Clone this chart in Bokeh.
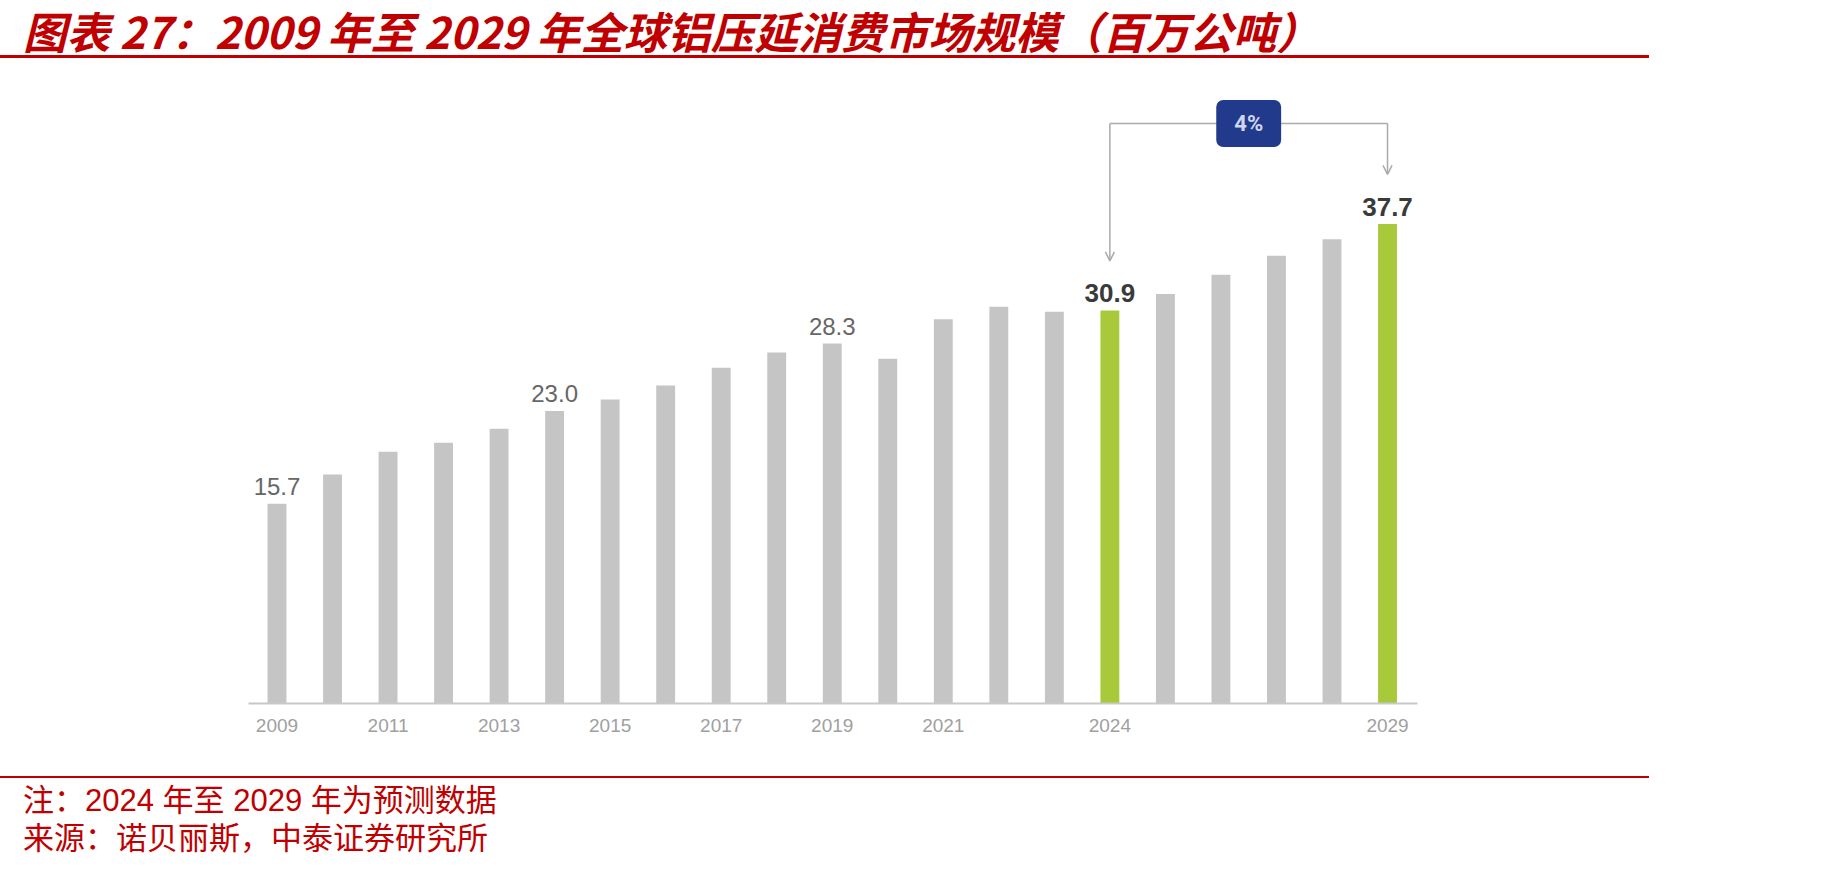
from bokeh.plotting import figure
from bokeh.layouts import column
from bokeh.models import ColumnDataSource, Label, Arrow, OpenHead, FixedTicker, Range1d, Div
from bokeh.core.properties import value
from bokeh.embed import file_html
from bokeh.resources import INLINE

# ---------------- data ----------------
years = [2009, 2010, 2011, 2012, 2013, 2014, 2015, 2016, 2017, 2018, 2019,
         2020, 2021, 2022, 2023, 2024, 2025, 2026, 2027, 2028, 2029]
values = [15.7, 18.0, 19.8, 20.5, 21.6, 23.0, 23.9, 25.0, 26.4, 27.6, 28.3,
          27.1, 30.2, 31.2, 30.8, 30.9, 32.2, 33.7, 35.2, 36.5, 37.7]
highlight_years = [2024, 2029]
label_years_plain = [2009, 2014, 2019]
label_years_bold = [2024, 2029]
tick_years = [2009, 2011, 2013, 2015, 2017, 2019, 2021, 2024, 2029]
tick_labels = ["2009", "2011", "2013", "2015", "2017", "2019", "2021", "2024", "2029"]
cagr_text = "4%"
cagr_from, cagr_to = 2024, 2029

title_text = "图表 27：2009 年至 2029 年全球铝压延消费市场规模（百万公吨）"
note_text = "注：2024 年至 2029 年为预测数据"
source_text = "来源：诺贝丽斯，中泰证券研究所"

# ---------------- styles ----------------
GRAY = "#c5c5c5"
GREEN = "#a8c93a"
RED = "#c00000"
CJK = "'Noto Sans CJK SC'"
FOOT_FONT = "'Liberation Sans', 'Noto Sans CJK SC'"

W, H = 1830, 872
TITLE_H = 90          # canvas rows 0..90
CHART_BOTTOM = 765    # chart figure spans 90..765
frame_left, frame_right = 248, 1417
frame_bottom = 703

# ---------------- title ----------------
title_html = (
    '<div style="position:relative;width:%dpx;height:%dpx;">'
    '<div style="position:absolute;left:23px;top:7px;white-space:nowrap;font-family:%s;'
    'font-size:43.5px;line-height:48px;font-weight:bold;font-style:italic;color:%s;">%s</div>'
    '<div style="position:absolute;left:0;top:55px;width:1649px;height:2.5px;background:%s;"></div>'
    '</div>' % (W, TITLE_H, CJK, RED, title_text, RED)
)
title_div = Div(text=title_html, width=W, height=TITLE_H, margin=(0, 0, 0, 0))

# ---------------- chart ----------------
colors = [GREEN if y in highlight_years else GRAY for y in years]
src = ColumnDataSource(dict(x=years, top=values, color=colors))

p = figure(width=W, height=CHART_BOTTOM - TITLE_H, output_backend="svg", toolbar_location=None,
           y_axis_location=None, x_axis_location="below", tools="",
           min_border_left=frame_left, min_border_right=W - frame_right,
           min_border_top=0, min_border_bottom=CHART_BOTTOM - frame_bottom,
           margin=(0, 0, 0, 0))
p.x_range = Range1d(2008.487, 2029.54)
p.y_range = Range1d(0, (frame_bottom - TITLE_H) / 12.72)
p.outline_line_color = None
p.grid.visible = False
p.background_fill_color = "white"
p.border_fill_color = "white"

p.vbar(x="x", top="top", width=0.34, bottom=0, color="color", source=src, line_color=None)

ax = p.xaxis[0]
ax.ticker = FixedTicker(ticks=tick_years)
ax.major_label_overrides = {t: l for t, l in zip(tick_years, tick_labels)}
ax.axis_line_color = "#c8c8c8"
ax.axis_line_width = 2
ax.major_tick_line_color = None
ax.minor_tick_line_color = None
ax.major_tick_out = 0
ax.major_tick_in = 0
ax.major_label_standoff = 15
ax.major_label_text_color = "#a0a0a0"
ax.major_label_text_font = "Liberation Sans"
ax.major_label_text_font_size = "19px"

vmap = dict(zip(years, values))
plain = ColumnDataSource(dict(x=label_years_plain, y=[vmap[y] for y in label_years_plain],
                              t=["%.1f" % vmap[y] for y in label_years_plain]))
bold = ColumnDataSource(dict(x=label_years_bold, y=[vmap[y] for y in label_years_bold],
                             t=["%.1f" % vmap[y] for y in label_years_bold]))
p.text(x="x", y="y", text="t", source=plain, text_align="center", text_baseline="alphabetic",
       y_offset=-17, text_font=value("Liberation Sans"), text_font_size="24px", text_color="#666666")
p.text(x="x", y="y", text="t", source=bold, text_align="center", text_baseline="alphabetic",
       y_offset=-17, text_font=value("Liberation Sans"), text_font_size="26px",
       text_font_style="bold", text_color="#3a3a3a")

bracket_y = 45.6
arrow_gap = 3.9
p.line(x=[cagr_from, cagr_to], y=[bracket_y, bracket_y], line_color="#aaaaaa", line_width=1.5)
for yr in (cagr_from, cagr_to):
    p.add_layout(Arrow(end=OpenHead(size=9, line_color="#aaaaaa", line_width=1.5),
                       x_start=yr, y_start=bracket_y, x_end=yr, y_end=vmap[yr] + arrow_gap,
                       line_color="#aaaaaa", line_width=1.5))
p.add_layout(Label(x=(cagr_from + cagr_to) / 2, y=bracket_y, text=cagr_text,
                   text_align="center", text_baseline="middle",
                   text_font="Roboto", text_font_size="22px", text_font_style="bold",
                   text_color="#cfd6f0",
                   background_fill_color="#213a8c", border_radius=7, padding=[18, 11]))

# ---------------- footer ----------------
FOOT_H = H - CHART_BOTTOM
line_style = ("position:absolute;left:23px;top:%dpx;height:32px;white-space:nowrap;font-family:%s;"
              "font-size:31px;line-height:32px;color:%s;")
foot_html = (
    '<div style="position:relative;width:%dpx;height:%dpx;">'
    '<div style="position:absolute;left:0;top:11px;width:1649px;height:2px;background:%s;"></div>'
    '<div style="%s">%s</div>'
    '<div style="%s">%s</div>'
    '</div>' % (W, FOOT_H, RED,
                line_style % (20, FOOT_FONT, RED), note_text,
                line_style % (58, FOOT_FONT, RED), source_text)
)
foot_div = Div(text=foot_html, width=W, height=FOOT_H, margin=(0, 0, 0, 0))

layout = column(title_div, p, foot_div, spacing=0, margin=(0, 0, 0, 0))
open("out.html", "w").write(file_html(layout, INLINE))
